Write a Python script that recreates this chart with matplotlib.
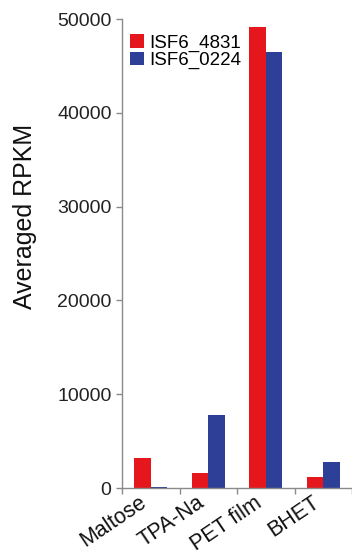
import numpy as np
import matplotlib.pyplot as plt

plt.rcParams['font.family'] = ['Liberation Sans', 'DejaVu Sans']

substrates = ["Maltose", "TPA-Na", "PET film", "BHET"]
isf6_4831 = [3150, 1550, 49100, 1150]
isf6_0224 = [100, 7750, 46500, 2770]
yticks = [0, 10000, 20000, 30000, 40000, 50000]

red = "#E6161D"
blue = "#2E3F97"
grey = "#8a8a8a"

fig = plt.figure(figsize=(3.52, 5.54), dpi=100)
ax = fig.add_axes([0.3466, 0.1191, 0.6534, 0.8466])

x = np.arange(len(substrates))
w = 0.287
ax.bar(x - w/2, isf6_4831, w, color=red, label="ISF6_4831")
ax.bar(x + w/2, isf6_0224, w, color=blue, label="ISF6_0224")

ax.set_xlim(-0.5, len(substrates) - 0.5)
ax.set_ylim(0, 50000)
ax.set_yticks(yticks)
ax.set_yticklabels([str(v) for v in yticks], fontsize=14, color="#222222")
ax.tick_params(axis="y", length=4, width=1, color=grey, pad=3.5)

ax.set_xticks(x)
ax.set_xticklabels(substrates, fontsize=15.5, color="#111111",
                   rotation=34, ha="right", va="top")
ax.tick_params(axis="x", which="major", length=0, pad=3)
ax.set_xticks(np.arange(-0.5, len(substrates)), minor=True)
ax.tick_params(axis="x", which="minor", length=4, width=1, color=grey, direction="out")

for s in ["top", "right"]:
    ax.spines[s].set_visible(False)
for s in ["left", "bottom"]:
    ax.spines[s].set_color(grey)
    ax.spines[s].set_linewidth(1)

ax.set_ylabel("Averaged RPKM", fontsize=18, color="#111111")
ax.yaxis.set_label_coords(-0.37, 0.579)

ax.legend(loc="upper left", bbox_to_anchor=(-0.022, 0.995), frameon=False,
          fontsize=13.5, handlelength=0.75, handleheight=0.7,
          handletextpad=0.25, labelspacing=0.0, borderaxespad=0.3)

fig.savefig("out.png", dpi=100)
